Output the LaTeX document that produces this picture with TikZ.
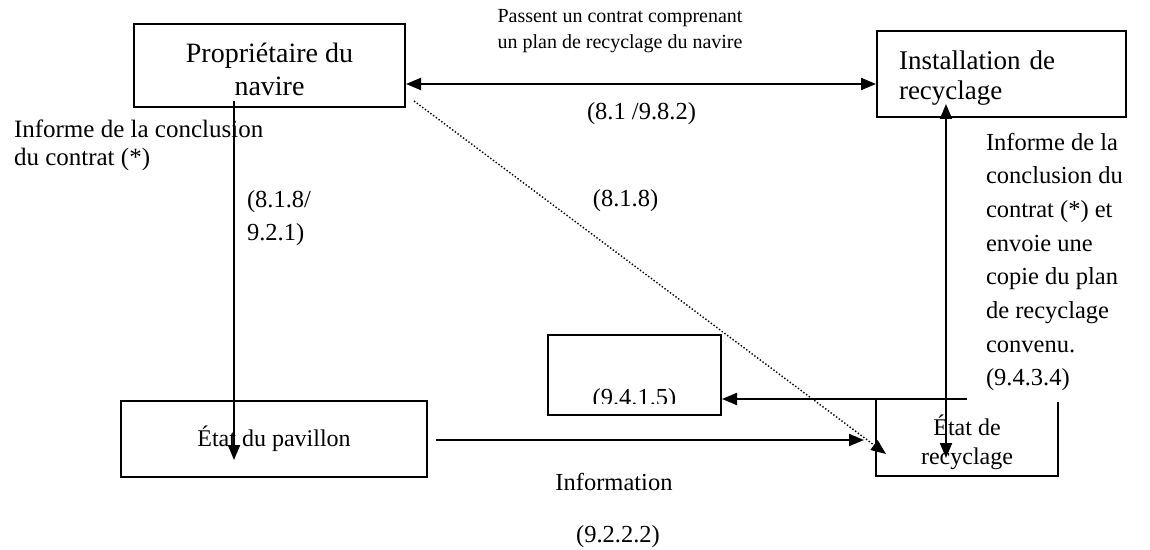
\documentclass[tikz,border=0pt]{standalone}
\usepackage{fontspec}
\setmainfont{Liberation Serif}
\usetikzlibrary{positioning, arrows.meta, calc}

\begin{document}
\begin{tikzpicture}[
			x=0.5pt, y=-0.5pt,
			line width=1pt,
			>={Triangle[length=7.5pt,width=6pt]},
			box/.style={
				draw,
				rectangle,
				inner sep=0pt,
				align=center
			},
			lbl/.style={
				inner sep=0pt,
				font=\fontsize{12.25}{16.85}\selectfont
			}
			]
			\useasboundingbox (0,0) rectangle (1150,550);
			
			% Boxes
			\node[box, minimum width=135.5pt, minimum height=41.5pt,
				font=\fontsize{14}{16.5}\selectfont] (owner) at (269.5,65.5) {\rule{0pt}{14pt}Propriétaire du\\navire};
			\node[box, text width=102.5pt, inner xsep=11pt, minimum height=43pt, align=left,
				font=\fontsize{13.5}{15}\selectfont] (facility) at (1001.5,74) {\rule{0pt}{13.5pt}Installation de\\recyclage};
			\node[box, minimum width=153pt, minimum height=38pt,
				font=\fontsize{12}{14}\selectfont] (flagstate) at (274,439) {État du pavillon};
			\node[box, minimum width=86.5pt, minimum height=40pt] (refbox) at (634.5,375) {};
			\node[inner sep=0pt, minimum width=90pt, minimum height=37.5pt, align=center,
				font=\fontsize{12}{14.5}\selectfont] (recstate) at (967,437.5) {\rule{0pt}{15.5pt}État de\\recyclage};
			\draw (recstate.north west) -- (recstate.south west) -- (recstate.south east)
				-- ($(recstate.north east)+(0,3)$);
			
			% text of the small box, cut at its lower part
			\begin{scope}
				\clip (refbox.north west) rectangle ($(refbox.east)+(0,28)$);
				\node[lbl, anchor=base] (reftxt) at ($(refbox.center)+(0,30)$) {(9.4.1.5)};
			\end{scope}
			
			% Connection points
			\coordinate (c1) at ($(owner.east)+(0,18.5)$);
			\coordinate (o1) at ($(owner.south)+(-35.5,-7)$);
			\coordinate (f1) at ($(flagstate.center)+(-40,21)$);
			\coordinate (o2) at ($(owner.south east)+(8,-7)$);
			\coordinate (r0) at ($(recstate.north west)+(10,55)$);
			\coordinate (i1) at ($(facility.south)+(-55.5,-14)$);
			\coordinate (r1) at ($(recstate.south)+(-21,-18)$);
			\coordinate (f2) at ($(flagstate.east)+(8,1)$);
			\coordinate (r2) at ($(recstate.west)+(-12,0)$);
			
			% Arrows
			\draw[<->] (c1) -- (c1 -| facility.west);
			\draw[->] (o1) -- (o1 |- f1);
			\draw[->, densely dotted, line width=0.7pt] (o2) -- (r0);
			\draw[<->] (i1) -- (i1 |- r1);
			\draw[->] (f2) -- (f2 -| r2);
			\draw[->] (recstate.north) -- (recstate.north -| refbox.east);
			
			% Labels
			\node[lbl, align=center, font=\fontsize{10}{13}\selectfont] (contractlbl) at (620,31)
				{Passent un contrat comprenant\\un plan de recyclage du navire};
			\node[lbl] (contractref) at (641.5,114) {(8.1 /9.8.2)};
			\node[lbl, align=left, anchor=west, font=\fontsize{12.5}{14}\selectfont] (ownerinfo) at (13,145)
				{Informe de la conclusion\\du contrat (*)};
			\node[lbl, align=left, anchor=west] (ownerref) at (246,218) {(8.1.8/\\9.2.1)};
			\node[lbl] (dottedref) at (625.5,201) {(8.1.8)};
			\node[lbl, align=left, anchor=west] (facilityinfo) at (985,262)
				{Informe de la\\conclusion du\\contrat (*) et\\envoie une\\copie du plan\\de recyclage\\convenu.\\(9.4.3.4)};
			\node[lbl] (infolbl) at (614,482) {Information};
			\node[lbl] (inforef) at (618,537) {(9.2.2.2)};
		\end{tikzpicture}
\end{document}
